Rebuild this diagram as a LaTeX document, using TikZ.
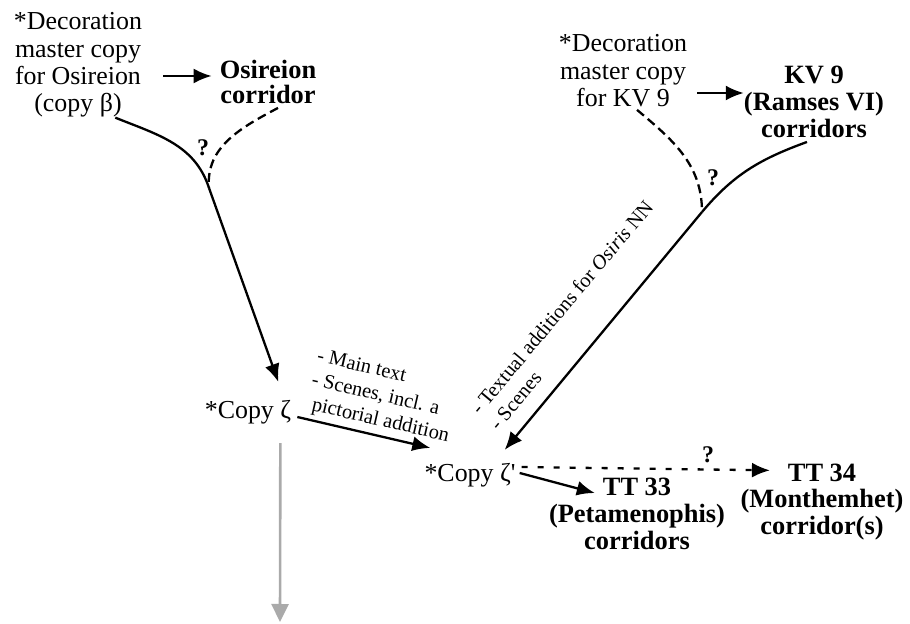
\documentclass[tikz,border=0pt]{standalone}
\usepackage{fontspec}
\setmainfont{Liberation Serif}[Ligatures=TeXOff]
\usetikzlibrary{arrows.meta,calc}
\begin{document}
\begin{tikzpicture}[x=1bp,y=1bp,
 reg/.style={font=\fontsize{26}{27.5}\selectfont, align=center, inner sep=0pt},
 bld/.style={font=\fontsize{26.5}{27}\selectfont\bfseries, align=center, inner sep=0pt},
 bldtight/.style={font=\fontsize{26.5}{25}\selectfont\bfseries, align=center, inner sep=0pt},
 lbl/.style={font=\fontsize{20.5}{24.5}\selectfont, align=left, inner sep=0pt},
 qm/.style={font=\fontsize{24}{24}\selectfont\bfseries, inner sep=0pt},
 link/.style={line width=2.3bp, -{Latex[length=18bp,width=15bp]}},
 plainline/.style={line width=2.3bp},
 dsh/.style={line width=2.3bp, dash pattern=on 9bp off 5bp},
 dotarrow/.style={line width=2.3bp, dash pattern=on 6bp off 10bp, -{Latex[length=18bp,width=15bp]}},
 greyarrow/.style={line width=2.6bp, draw={rgb,255:red,170;green,170;blue,170}, -{Triangle[length=18bp,width=17bp]}}
]
\useasboundingbox (0,0) rectangle (910,624);

% nodes
\node[reg] (mO) at (78,559) {*Decoration\\master copy\\for Osireion\\(copy β)};
\node[bldtight] (oC) at (268,542) {Osireion\\corridor};
\node[reg] (mK) at (623,553) {*Decoration\\master copy\\for KV 9};
\node[bld] (kC) at (814,522) {KV 9\\(Ramses VI)\\corridors};
\node[reg] (cZ) at (248,212) {*Copy ζ};
\node[reg] (cZp) at (470,149) {*Copy ζ'};
\node[bld] (t33) at (637,110) {TT 33\\(Petamenophis)\\corridors};
\node[bld] (t34) at (822,122) {TT 34\\(Monthemhet)\\corridor(s)};

\node[qm] (q1) at (203,476) {?};
\node[qm] (q2) at (713,446) {?};
\node[qm] (q3) at (708,169) {?};

\node[lbl, rotate=-13] (lblA) at (383,227) {- Main text\\- Scenes, incl. a\\\hspace*{6bp}pictorial addition};
\node[lbl, rotate=50] (lblB) at (571,309) {- Textual additions for \textit{Osiris} NN\\- Scenes};

% junctions
\coordinate (jO) at (209,436);
\coordinate (jK) at (702,412);
\coordinate (gEnd) at (280,2);

% connectors
\draw[link] ([shift={(21,-11)}]mO.east) -- ([shift={(-8,6)}]oC.west);
\draw[link] ([shift={(10,-22)}]mK.east) -- ([shift={(0,9)}]kC.west);

\draw[plainline] ([xshift=-27]mO.south east) to[out=-22,in=108] (jO);
\draw[dsh] ([shift={(10,-4)}]oC.south) to[out=208,in=95] (jO);
\draw[link] (jO) -- ([shift={(-13,18)}]cZ.north east);

\draw[plainline] ([shift={(-7,-4)}]kC.south) to[out=200,in=50] (jK);
\draw[dsh] ([shift={(14,-2.5)}]mK.south) to[out=-40,in=90] (jK);
\draw[link] (jK) -- ([shift={(-11,13)}]cZp.north east);

\draw[link] ([shift={(6,-5)}]cZ.east) -- ([shift={(6,15)}]cZp.north west);
\draw[greyarrow] ([shift={(-11,-19)}]cZ.south east) -- (gEnd);

\draw[dotarrow] ([shift={(6,8)}]cZp.east) -- ([shift={(29.5,-7)}]t34.north west);
\draw[link] ([shift={(4,2)}]cZp.east) -- ([shift={(46,-15)}]t33.north west);
\end{tikzpicture}
\end{document}
